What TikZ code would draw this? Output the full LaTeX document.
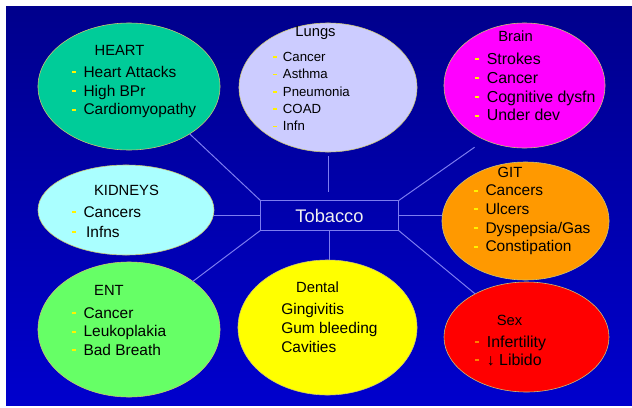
\documentclass[tikz,border=0pt]{standalone}
\usepackage{fontspec}
\setmainfont{Liberation Sans}
\usetikzlibrary{shapes.geometric}
\definecolor{bgtop}{RGB}{0,0,140}
\definecolor{bgbot}{RGB}{0,0,205}
\definecolor{linkc}{RGB}{125,125,240}
\definecolor{heartc}{RGB}{0,204,153}
\definecolor{lungc}{RGB}{204,204,255}
\definecolor{brainc}{RGB}{255,0,255}
\definecolor{kidc}{RGB}{170,255,255}
\definecolor{gitc}{RGB}{255,153,0}
\definecolor{entc}{RGB}{102,255,102}
\definecolor{dentc}{RGB}{255,255,0}
\definecolor{sexc}{RGB}{255,0,0}
\newcommand{\yb}{\textcolor{yellow}{\rule[0.26em]{0.25em}{0.13em}}\hspace{0.48em}}
\newcommand{\ob}{\textcolor{orange}{\rule[0.26em]{0.25em}{0.13em}}\hspace{0.48em}}
\begin{document}
\begin{tikzpicture}[x=0.025cm,y=-0.025cm,
  organ/.style={ellipse,draw=olive!45,line width=0.4pt,inner sep=0pt,outer sep=0pt},
  head/.style={font=\fontsize{10.5}{12}\selectfont,inner sep=0pt},
  lst/.style={align=left,anchor=west,inner sep=0pt},
  hub/.style={draw=linkc,line width=0.7pt,minimum width=3.43cm,minimum height=0.73cm,inner sep=0pt,outer sep=0pt,font=\fontsize{13}{15}\selectfont,text=white!88!gray},
  link/.style={draw=linkc,line width=0.7pt}]
  \useasboundingbox (0,0) rectangle (632,408);
  \shade[top color=bgtop,bottom color=bgbot] (6,6) rectangle (632,405);
  % centre box
  \node[hub] (tob) at (329.5,215.5){Tobacco};
  % organs
  \node[organ,fill=heartc,minimum width=4.55cm,minimum height=3.175cm] (heart) at (129,86.5){};
  \node[head] (heart-h) at (119.5,50){HEART};
  \node[lst,font=\fontsize{11}{13.5}\selectfont] (heart-l) at (72,92){\yb Heart Attacks\\\yb High BPr\\\yb Cardiomyopathy};
  \node[organ,fill=lungc,minimum width=4.45cm,minimum height=3.225cm] (lungs) at (328,87.5){};
  \node[head] (lungs-h) at (315.5,33){Lungs};
  \node[lst,font=\fontsize{9.4}{12.3}\selectfont] (lungs-l) at (273,91.5){\yb Cancer\\\yb Asthma\\\yb Pneumonia\\\yb COAD\\\yb Infn};
  \node[organ,fill=brainc,minimum width=4.025cm,minimum height=3.125cm] (brain) at (524.5,85.5){};
  \node[head] (brain-h) at (515.5,36){Brain};
  \node[lst,font=\fontsize{11.3}{13.3}\selectfont] (brain-l) at (475,87){\yb Strokes\\\yb Cancer\\\yb Cognitive dysfn\\\yb Under dev};
  \node[organ,fill=kidc,minimum width=4.4cm,minimum height=2.25cm] (kidneys) at (126,210){};
  \node[head] (kidneys-h) at (126.5,190){KIDNEYS};
  \node[lst,font=\fontsize{11}{14.2}\selectfont] (kidneys-l) at (72,222){\yb Cancers\\\yb \,Infns};
  \node[organ,fill=gitc,minimum width=4.175cm,minimum height=2.95cm] (git) at (525.5,221){};
  \node[head] (git-h) at (510,172){GIT};
  \node[lst,font=\fontsize{11}{13.3}\selectfont] (git-l) at (474,220){\yb Cancers\\\yb Ulcers\\\yb Dyspepsia/Gas\\\yb Constipation};
  \node[organ,fill=entc,minimum width=4.55cm,minimum height=3.375cm] (ent) at (129,329.5){};
  \node[head] (ent-h) at (109,290){ENT};
  \node[lst,font=\fontsize{11}{13.2}\selectfont] (ent-l) at (72,331.5){\yb Cancer\\\yb Leukoplakia\\\yb Bad Breath};
  \node[organ,fill=dentc,minimum width=4.475cm,minimum height=3.375cm] (dental) at (327.5,327.5){};
  \node[head] (dental-h) at (317.5,287){Dental};
  \node[lst,font=\fontsize{11}{13.5}\selectfont] (dental-l) at (281,328){Gingivitis\\Gum bleeding\\Cavities};
  \node[organ,fill=sexc,minimum width=4.125cm,minimum height=2.75cm] (sex) at (526.5,337){};
  \node[head] (sex-h) at (509.5,320){Sex};
  \node[lst,font=\fontsize{11.3}{12.8}\selectfont] (sex-l) at (475,351){\ob Infertility\\\ob ↓ Libido};
  % spokes
  \draw[link] (tob.north west) -- (heart.-38);
  \draw[link,shorten <=3pt,shorten >=6pt] (lungs.south) -- (lungs.south |- tob.north);
  \draw[link,shorten >=9pt] (tob.north east) -- (brain.234);
  \draw[link] (tob.west) -- (tob.west -| kidneys.east);
  \draw[link] (tob.east) -- (tob.east -| git.west);
  \draw[link] (tob.south west) -- (ent.37);
  \draw[link] (tob.south) -- (tob.south |- dental.north);
  \draw[link] (tob.south east) -- (sex.140);
\end{tikzpicture}
\end{document}
